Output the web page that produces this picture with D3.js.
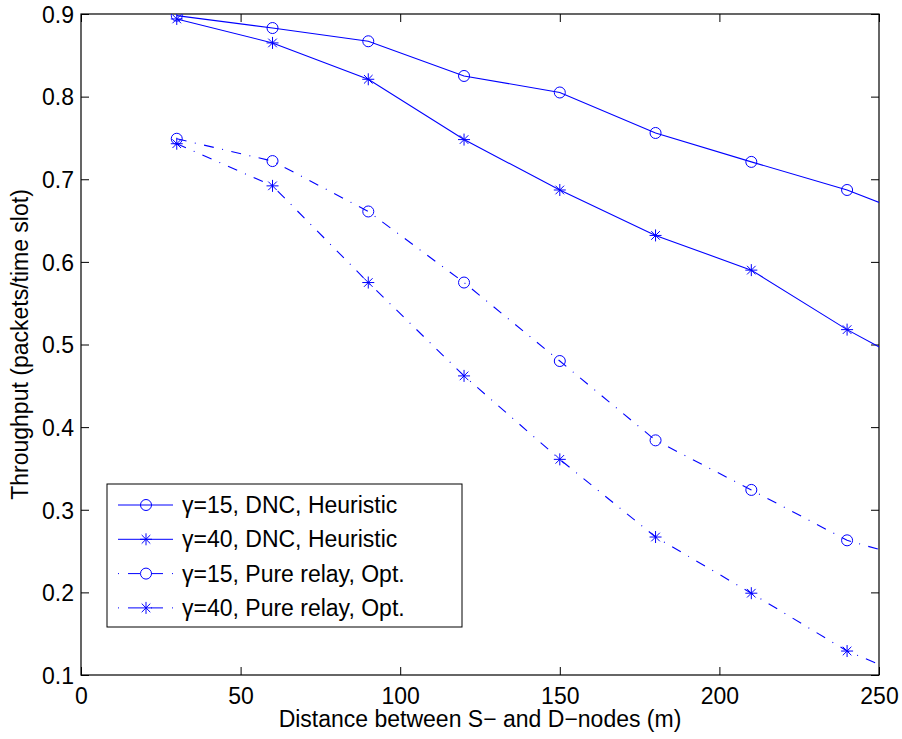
<!DOCTYPE html>
<html>
<head>
<meta charset="utf-8">
<script src="https://cdn.jsdelivr.net/npm/d3@7"></script>
<style>
  body { margin: 0; background: #fff; }
  svg { display: block; }
  text { font-family: "Liberation Sans", Arial, Helvetica, sans-serif; fill: #000; }
</style>
</head>
<body>
<svg id="chart" width="902" height="739"></svg>
<script>
// ---- data ----
const distances = [30, 60, 90, 120, 150, 180, 210, 240, 270];
const g15DNC   = [0.898, 0.883, 0.867, 0.825, 0.805, 0.756, 0.721, 0.687, 0.642];
const g40DNC   = [0.894, 0.865, 0.821, 0.748, 0.687, 0.632, 0.590, 0.518, 0.455];
const g15Relay = [0.749, 0.722, 0.661, 0.575, 0.480, 0.384, 0.324, 0.263, 0.230];
const g40Relay = [0.743, 0.692, 0.575, 0.462, 0.361, 0.267, 0.199, 0.129, 0.081];
const seriesNames = ["γ=15, DNC, Heuristic", "γ=40, DNC, Heuristic",
                     "γ=15, Pure relay, Opt.", "γ=40, Pure relay, Opt."];
const xTicks = [0, 50, 100, 150, 200, 250];
const yTicks = [0.1, 0.2, 0.3, 0.4, 0.5, 0.6, 0.7, 0.8, 0.9];
const xLabel = "Distance between S\u2212 and D\u2212nodes (m)";
const yLabel = "Throughput (packets/time slot)";

const series = [
  { name: seriesNames[0], values: g15DNC,   marker: "circle", dash: null },
  { name: seriesNames[1], values: g40DNC,   marker: "star",   dash: null },
  { name: seriesNames[2], values: g15Relay, marker: "circle", dash: "10,8.5,1,8.5" },
  { name: seriesNames[3], values: g40Relay, marker: "star",   dash: "10,8.5,1,8.5" }
];

// ---- layout ----
const L = 81, R = 879, T = 14, B = 675;
const color = "#0000ff";
const FS = 23;
const svg = d3.select("#chart");

const x = d3.scaleLinear().domain([0, 250]).range([L, R]);
const y = d3.scaleLinear().domain([0.1, 0.9]).range([B, T]);

svg.append("defs").append("clipPath").attr("id", "clip")
  .append("rect").attr("x", L).attr("y", T).attr("width", R - L).attr("height", B - T);

// axes with inward ticks
const tickLen = 8;
const fmtY = d3.format(".1f");

const gx = svg.append("g").attr("transform", `translate(0,${B})`)
  .call(d3.axisBottom(x).tickValues(xTicks).tickSize(-tickLen).tickFormat(d3.format("d")));
const gxTop = svg.append("g").attr("transform", `translate(0,${T})`)
  .call(d3.axisTop(x).tickValues(xTicks).tickSize(-tickLen).tickFormat(""));
const gy = svg.append("g").attr("transform", `translate(${L},0)`)
  .call(d3.axisLeft(y).tickValues(yTicks).tickSize(-tickLen).tickPadding(7).tickFormat(fmtY));
const gyR = svg.append("g").attr("transform", `translate(${R},0)`)
  .call(d3.axisRight(y).tickValues(yTicks).tickSize(-tickLen).tickFormat(""));

[gx, gxTop, gy, gyR].forEach(g => {
  g.select(".domain").remove();
  g.selectAll(".tick line").attr("stroke", "#000").attr("stroke-width", 1);
  g.selectAll("text").attr("font-size", FS).attr("fill", "#000")
    .style("font-family", '"Liberation Sans", Arial, sans-serif');
});
gx.selectAll("text").attr("dy", null).attr("y", 28.5);
gy.selectAll("text").attr("dy", "0.36em").attr("x", -7);

// box
svg.append("rect").attr("x", L).attr("y", T).attr("width", R - L).attr("height", B - T)
  .attr("fill", "none").attr("stroke", "#000").attr("stroke-width", 1.2);

// axis titles
svg.append("text").attr("x", (L + R) / 2).attr("y", 727)
  .attr("text-anchor", "middle").attr("font-size", FS).text(xLabel);
svg.append("text").attr("transform", `translate(28,${(T + B) / 2}) rotate(-90)`)
  .attr("text-anchor", "middle").attr("font-size", FS).text(yLabel);

// markers
function drawMarker(g, type, cx, cy) {
  if (type === "circle") {
    g.append("circle").attr("cx", cx).attr("cy", cy).attr("r", 5.5)
      .attr("fill", "none").attr("stroke", color).attr("stroke-width", 1);
  } else {
    const s = 6, d = 4.3;
    const p = `M${cx - s},${cy}L${cx + s},${cy}M${cx},${cy - s}L${cx},${cy + s}` +
              `M${cx - d},${cy - d}L${cx + d},${cy + d}M${cx - d},${cy + d}L${cx + d},${cy - d}`;
    g.append("path").attr("d", p).attr("fill", "none").attr("stroke", color).attr("stroke-width", 1);
  }
}

const plot = svg.append("g").attr("clip-path", "url(#clip)");
const line = d3.line().x((d, i) => x(distances[i])).y(d => y(d));

series.forEach(s => {
  const p = plot.append("path").datum(s.values).attr("d", line)
    .attr("fill", "none").attr("stroke", color).attr("stroke-width", 1.1);
  if (s.dash) p.attr("stroke-dasharray", s.dash);
  const mg = plot.append("g");
  s.values.forEach((v, i) => drawMarker(mg, s.marker, x(distances[i]), y(v)));
});

// legend
const lg = svg.append("g");
lg.append("rect").attr("x", 107).attr("y", 484).attr("width", 355).attr("height", 143)
  .attr("fill", "#fff").attr("stroke", "#000").attr("stroke-width", 1);
series.forEach((s, i) => {
  const cy = 505 + i * 34.3;
  const l = lg.append("line").attr("x1", 118).attr("x2", 173).attr("y1", cy).attr("y2", cy)
    .attr("stroke", color).attr("stroke-width", 1);
  if (s.dash) l.attr("stroke-dasharray", "1,9,12,11,12,9,1");
  drawMarker(lg, s.marker, 146, cy);
  lg.append("text").attr("x", 182).attr("y", cy + 8).attr("font-size", FS).text(s.name);
});
</script>
</body>
</html>
